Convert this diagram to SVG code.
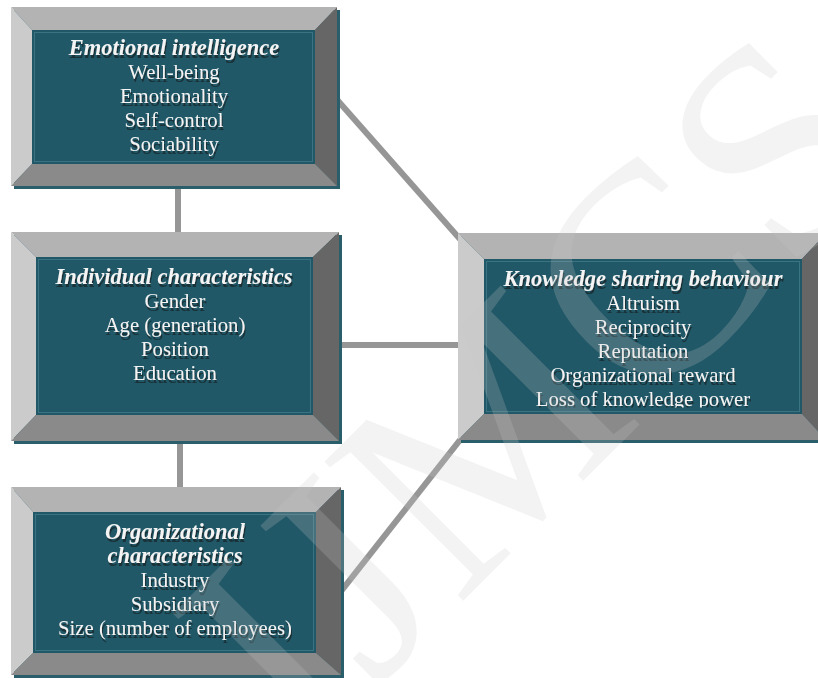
<svg xmlns="http://www.w3.org/2000/svg" width="818" height="678" viewBox="0 0 818 678">
  <defs>
    <style>
      .shadow { fill: #2b5e6b; }
      .top { fill: #b3b3b3; }
      .left { fill: #cbcbcb; }
      .right { fill: #666666; }
      .bottom { fill: #8a8a8a; }
      .face { fill: #215867; }
      .rim { fill: none; stroke: #3a7482; stroke-width: 1; }
      .conn { stroke: #969696; stroke-width: 6; fill: none; }
      .lbl { font-family: "Liberation Serif", "Times New Roman", serif; fill: #f4f4f4; text-anchor: middle; filter: url(#txtShadow); }
      .t { font-size: 22.5px; font-weight: bold; font-style: italic; }
      .b { font-size: 20.7px; }
      .mark { font-family: "Liberation Serif", "Times New Roman", serif; font-size: 300px; fill: #c8c8c8; fill-opacity: 0.22; }
    </style>
    <filter id="txtShadow" x="-10%" y="-30%" width="120%" height="170%">
      <feGaussianBlur in="SourceAlpha" stdDeviation="0.7" result="blur"/>
      <feOffset in="blur" dx="1.2" dy="3" result="off"/>
      <feFlood flood-color="#16292e" flood-opacity="0.85"/>
      <feComposite in2="off" operator="in" result="sh"/>
      <feMerge>
        <feMergeNode in="sh"/>
        <feMergeNode in="SourceGraphic"/>
      </feMerge>
    </filter>
    <clipPath id="clipKsb">
      <rect x="484" y="259" width="318" height="148.5"/>
    </clipPath>
  </defs>

  <rect width="818" height="678" fill="#ffffff"/>

  <!-- connectors, drawn beneath the framed boxes -->
  <g id="connectors">
    <path class="conn" d="M178,186 V235"/>
    <path class="conn" d="M180,441 V490"/>
    <path class="conn" d="M336,345 H462"/>
    <path class="conn" d="M330,91.8 L465,244.8"/>
    <path class="conn" d="M335,598.9 L465,433.6"/>
  </g>

  <!-- Emotional intelligence -->
  <g id="emotional-intelligence">
    <rect class="shadow" x="14" y="10" width="326" height="179"/>
    <polygon class="top" points="11,7 337,7 315,30 32,30"/>
    <polygon class="left" points="11,7 32,30 32,164 11,186"/>
    <polygon class="right" points="337,7 337,186 315,164 315,30"/>
    <polygon class="bottom" points="11,186 32,164 315,164 337,186"/>
    <rect class="face" x="32" y="30" width="283" height="134"/>
    <rect class="rim" x="34.5" y="32.5" width="278" height="129"/>
    <text class="lbl t" x="174" y="55">Emotional intelligence</text>
    <text class="lbl b" x="174" y="79">Well-being</text>
    <text class="lbl b" x="174" y="103">Emotionality</text>
    <text class="lbl b" x="174" y="127">Self-control</text>
    <text class="lbl b" x="174" y="151">Sociability</text>
  </g>

  <!-- Individual characteristics -->
  <g id="individual-characteristics">
    <rect class="shadow" x="14" y="235" width="328" height="209"/>
    <polygon class="top" points="11,232 339,232 313,257 36,257"/>
    <polygon class="left" points="11,232 36,257 36,415 11,441"/>
    <polygon class="right" points="339,232 339,441 313,415 313,257"/>
    <polygon class="bottom" points="11,441 36,415 313,415 339,441"/>
    <rect class="face" x="36" y="257" width="277" height="158"/>
    <rect class="rim" x="38.5" y="259.5" width="272" height="153"/>
    <text class="lbl t" x="174" y="284">Individual characteristics</text>
    <text class="lbl b" x="175" y="308">Gender</text>
    <text class="lbl b" x="175" y="332">Age (generation)</text>
    <text class="lbl b" x="175" y="356">Position</text>
    <text class="lbl b" x="175" y="380">Education</text>
  </g>

  <!-- Organizational characteristics -->
  <g id="organizational-characteristics">
    <rect class="shadow" x="14" y="490" width="330" height="188"/>
    <polygon class="top" points="11,487 341,487 316,512 33,512"/>
    <polygon class="left" points="11,487 33,512 33,653 11,675"/>
    <polygon class="right" points="341,487 341,675 316,653 316,512"/>
    <polygon class="bottom" points="11,675 33,653 316,653 341,675"/>
    <rect class="face" x="33" y="512" width="283" height="141"/>
    <rect class="rim" x="35.5" y="514.5" width="278" height="136"/>
    <text class="lbl t" x="175" y="539">Organizational</text>
    <text class="lbl t" x="175" y="563">characteristics</text>
    <text class="lbl b" x="175" y="587">Industry</text>
    <text class="lbl b" x="175" y="611">Subsidiary</text>
    <text class="lbl b" x="175" y="635">Size (number of employees)</text>
  </g>

  <!-- Knowledge sharing behaviour (last line is cropped by the face) -->
  <g id="knowledge-sharing-behaviour">
    <rect class="shadow" x="461" y="236" width="368" height="207"/>
    <polygon class="top" points="458,233 826,233 802,259 484,259"/>
    <polygon class="left" points="458,233 484,259 484,414 458,440"/>
    <polygon class="right" points="826,233 826,440 802,414 802,259"/>
    <polygon class="bottom" points="458,440 484,414 802,414 826,440"/>
    <rect class="face" x="484" y="259" width="318" height="155"/>
    <rect class="rim" x="486.5" y="261.5" width="313" height="150"/>
    <g clip-path="url(#clipKsb)">
      <text class="lbl t" x="643" y="286">Knowledge sharing behaviour</text>
      <text class="lbl b" x="643" y="310">Altruism</text>
      <text class="lbl b" x="643" y="334">Reciprocity</text>
      <text class="lbl b" x="643" y="358">Reputation</text>
      <text class="lbl b" x="643" y="382">Organizational reward</text>
      <text class="lbl b" x="643" y="406">Loss of knowledge power</text>
    </g>
  </g>

  <!-- faint diagonal watermark laid over the page -->
  <text class="mark" transform="translate(304,760) rotate(-45)">IJMCS</text>
</svg>
